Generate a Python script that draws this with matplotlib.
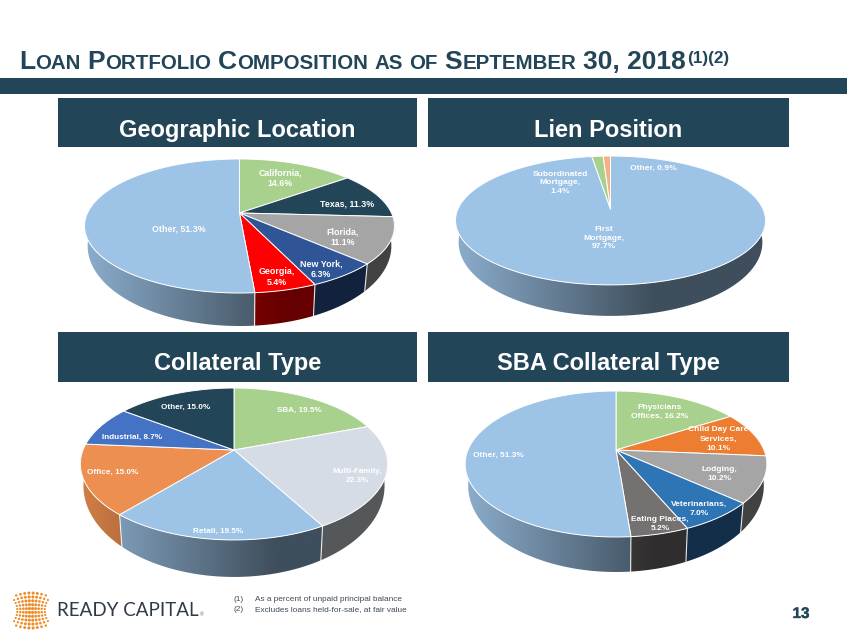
import matplotlib
matplotlib.use('Agg')
import matplotlib.pyplot as plt
import matplotlib.colors as mcolors
import matplotlib.patheffects as pe
from matplotlib.patches import Rectangle, Polygon
import numpy as np

plt.rcParams['font.family'] = ['Liberation Sans', 'DejaVu Sans']

TEAL = '#234558'
GREEN = '#A9D18E'
BLUE = '#9DC3E6'

# values go clockwise from 12 o'clock, same as the original charts
geo_names = ['California,\n', 'Texas, ', 'Florida,\n', 'New York,\n', 'Georgia,\n', 'Other, ']
geo_values = [14.6, 11.3, 11.1, 6.3, 5.4, 51.3]
geo_colors = [GREEN, TEAL, '#A5A5A5', '#2F5597', '#FF0000', BLUE]
geo_label_xy = [(280, 178), (347, 204), (343, 237), (321, 269), (277, 277), (179, 229)]

lien_names = ['First\nMortgage,\n', 'Subordinated\nMortgage,\n', 'Other, ']
lien_values = [97.7, 1.4, 0.9]
lien_colors = [BLUE, GREEN, '#F4B183']
lien_label_xy = [(604, 238), (560, 183), (653, 168)]

coll_names = ['SBA, ', 'Multi-Family,\n', 'Retail, ', 'Office, ', 'Industrial, ', 'Other, ']
coll_values = [19.5, 22.3, 19.5, 15.0, 8.7, 15.0]
coll_colors = [GREEN, '#D6DCE5', BLUE, '#ED8F50', '#4472C4', TEAL]
coll_label_xy = [(299, 410), (357, 476), (218, 531), (113, 472), (132, 437), (186, 407)]

sba_names = ['Physicians\nOffices, ', 'Child Day Care\nServices,\n', 'Lodging,\n',
             'Veterinarians,\n', 'Eating Places,\n', 'Other, ']
sba_values = [16.2, 10.1, 10.2, 7.0, 5.2, 51.3]
sba_colors = [GREEN, '#ED7D31', '#A5A5A5', '#2E75B6', '#767171', BLUE]
sba_label_xy = [(660, 412), (718, 439), (719, 474), (699, 509), (660, 524), (498, 455)]

headers = ['Geographic Location', 'Lien Position', 'Collateral Type', 'SBA Collateral Type']
footnotes = ['As a percent of unpaid principal balance', 'Excludes loans held-for-sale, at fair value']


fig = plt.figure(figsize=(8.47, 6.35), dpi=100)
ax = fig.add_axes([0, 0, 1, 1])
ax.set_xlim(0, 847)
ax.set_ylim(635, 0)
ax.axis('off')


def rim(theta, g):
    # perspective of a tilted disc, apex sits above the middle of the ellipse
    u, v = np.sin(theta), np.cos(theta)
    d = 1 + g['k'] * v
    return g['cx'] + g['R'] * u / d, g['cy'] - g['H'] * v / d


def rim_bottom(theta, g):
    x, y = rim(theta, g)
    mid = g['cy'] + g['H'] * g['k'] / (1 - g['k'] ** 2)
    half = g['H'] / (1 - g['k'] ** 2)
    sy = (half + g['front'] - g['side']) / half
    return g['cx'] + g['sx'] * (x - g['cx']), mid + (y - mid) * sy + g['side']


def shade(color, x, g):
    t = (x - (g['cx'] - g['R'])) / (2 * g['R'])
    f = np.maximum(0.40, 0.88 - 0.75 * t)
    return np.outer(f, mcolors.to_rgb(color))


def pie3d(values, colors, names, label_xy, g, size, spacing):
    edges = np.radians(np.cumsum([0] + list(values)) * 3.6)
    # side wall, a gradient image clipped to each slice's wall
    for col, a, b in zip(colors, edges[:-1], edges[1:]):
        a2, b2 = max(a, np.pi / 2), min(b, 3 * np.pi / 2)
        if b2 <= a2:
            continue
        t = np.linspace(a2, b2, 80)
        x0, y0 = rim(t, g)
        x1, y1 = rim_bottom(t, g)
        xs = np.r_[x0, x1[::-1]]
        ys = np.r_[y0, y1[::-1]]
        grad = shade(col, np.linspace(xs.min(), xs.max(), 200), g)[None, :, :]
        im = ax.imshow(grad, extent=[xs.min(), xs.max(), ys.max(), ys.min()], aspect='auto',
                       interpolation='bilinear', zorder=2)
        im.set_clip_path(Polygon(np.c_[xs, ys], closed=True, transform=ax.transData))
    for e in edges[1:-1]:
        if np.pi * 0.6 < e < np.pi * 1.4:
            x0, y0 = rim(e, g)
            x1, y1 = rim_bottom(e, g)
            ax.plot([x0, x1], [y0, y1], color='white', lw=0.8, alpha=0.85, zorder=3)
    # top face
    for col, a, b in zip(colors, edges[:-1], edges[1:]):
        t = np.linspace(a, b, max(3, int((b - a) * 60)))
        x, y = rim(t, g)
        ax.fill(np.r_[g['cx'], x], np.r_[g['cy'], y], fc=col, ec='white', lw=0.7, zorder=4,
                joinstyle='round')
    for name, val, (lx, ly) in zip(names, values, label_xy):
        ax.text(lx, ly, f'{name}{val:.1f}%', color='white', fontsize=size, fontweight='bold',
                ha='center', va='center', linespacing=spacing, zorder=6)


def runs(x, y, parts, color):
    # small caps, liberation has none so each size is its own text
    r = fig.canvas.get_renderer()
    for s, size, dy, gap in parts:
        t = ax.text(x, y - dy, s, color=color, fontsize=size, fontweight='bold', ha='left', va='baseline')
        x = t.get_window_extent(r).x1 + gap


# title and bar
big, small = 19, 14.8
sp = 6.5
runs(19, 69, [('L', big, 0, 0.4), ('OAN', small, 0, sp),
              ('P', big, 0, 0.4), ('ORTFOLIO', small, 0, sp),
              ('C', big, 0, 0.4), ('OMPOSITION', small, 0, sp),
              ('AS', small, 0, sp), ('OF', small, 0, sp),
              ('S', big, 0, 0.4), ('EPTEMBER', small, 0, sp),
              ('30, 2018', big, 0, 1.5), ('(1)(2)', 12.3, 6, 0)], TEAL)
ax.add_patch(Rectangle((0, 78), 847, 16, fc=TEAL, ec='none'))

# section headers
hdr_x = [(58, 417), (428, 789), (58, 417), (428, 789)]
hdr_y = [(98, 147), (98, 147), (332, 382), (332, 382)]
hdr_base = [137, 137, 370, 370]
for h, (x0, x1), (y0, y1), base in zip(headers, hdr_x, hdr_y, hdr_base):
    ax.add_patch(Rectangle((x0, y0), x1 - x0, y1 - y0, fc=TEAL, ec='none'))
    ax.text((x0 + x1) / 2, base, h, color='white', fontsize=17, fontweight='bold',
            ha='center', va='baseline')

pie3d(geo_values, geo_colors, geo_names, geo_label_xy,
      dict(cx=239.5, cy=213, R=152, H=64.5, k=0.194, sx=0.98, side=20, front=33), 6.4, 1.15)
pie3d(lien_values, lien_colors, lien_names, lien_label_xy,
      dict(cx=610.5, cy=209, R=152.5, H=62.4, k=0.178, sx=0.98, side=22, front=31), 6.1, 1.3)
pie3d(coll_values, coll_colors, coll_names, coll_label_xy,
      dict(cx=234, cy=450, R=151, H=73.4, k=0.184, sx=0.98, side=22, front=37), 5.85, 1.5)
pie3d(sba_values, sba_colors, sba_names, sba_label_xy,
      dict(cx=616, cy=450, R=148, H=70.3, k=0.192, sx=0.98, side=22, front=35), 6.05, 1.45)
ax.set_xlim(0, 847)
ax.set_ylim(635, 0)

# footer
for i, note in enumerate(footnotes):
    y = 599.7 + i * 9.8
    ax.text(234, y, f'({i + 1})', color='#3F4A55', fontsize=5.95, va='center')
    ax.text(255, y, note, color='#3F4A55', fontsize=5.95, va='center')
ax.text(801, 614, '13', color=TEAL, fontsize=11, fontweight='bold', ha='center', va='center',
        path_effects=[pe.withStroke(linewidth=0.25, foreground=TEAL)])

# logo, dots pinch in at the waist and bulge at top and bottom
gx, gy = np.meshgrid(np.linspace(-1, 1, 10), np.linspace(-1, 1, 10))
keep = (np.abs(gx) < 0.95) | (np.abs(gy) < 0.95)
px = 31 + gx[keep] * 19 * (1 - 0.28 * (1 - gy[keep] ** 2))
py = 610.5 + gy[keep] * (13.5 + 4 * (1 - gx[keep] ** 2))
ax.scatter(px, py, s=4.8 * (1.1 - 0.6 * np.abs(gx[keep])), c='#F08A24', lw=0, zorder=5)
ax.text(57, 611, 'READY CAPITAL', color='#2F3A45', fontsize=13.5, family='Lato', va='center', ha='left')
ax.text(201.5, 615, '®', color='#5A6068', fontsize=3.5, va='center', ha='center')

fig.savefig('out.png', dpi=100)
